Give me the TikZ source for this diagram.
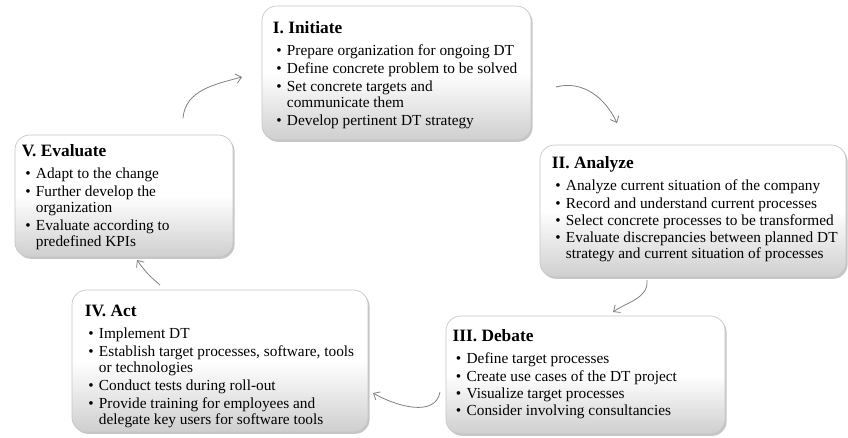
\documentclass[tikz,border=0pt]{standalone}
\usepackage{fontspec}
\setmainfont{Liberation Serif}
\usetikzlibrary{arrows.meta, positioning, shadows}
\tikzstyle{phase} = [draw=gray!45, line width=0.5pt, rounded corners=11pt, top color=white, bottom color=gray!38, middle color=white, drop shadow={shadow xshift=1.2pt, shadow yshift=-1.4pt, fill=black!50, opacity=0.45}]
\tikzstyle{phasetext} = [inner sep=0pt, anchor=north west]
\tikzstyle{flow} = [draw=black!50, line width=0.6pt, -{Straight Barb[length=4pt,width=7pt]}]
\newenvironment{phaselist}{\fontsize{11.5}{12}\selectfont\begin{tabular}{@{\hspace{2.5pt}}c@{\hspace{4pt}}l@{}}}{\end{tabular}}
\newcommand{\phasetitle}[1]{\multicolumn{2}{@{}l@{}}{\fontsize{13}{12}\selectfont\bfseries #1}\\[4.5pt]}
\newcommand{\itm}{\textbullet &}

\begin{document}
\begin{tikzpicture}[x=0.75pt, y=0.75pt]
  \useasboundingbox (0,0) rectangle (848,437);

  % the five phases of the cycle
  \node[phase, minimum width=201.75pt, minimum height=100.5pt] (init) at (396.5,364) {};
  \node[phase, minimum width=229.5pt, minimum height=99pt] (analyze) at (693,226) {};
  \node[phase, minimum width=209.25pt, minimum height=88.5pt] (debate) at (585.5,62) {};
  \node[phase, minimum width=222pt, minimum height=106.5pt] (act) at (220,76) {};
  \node[phase, minimum width=163.5pt, minimum height=91.5pt] (evaluate) at (124,241) {};

  \node[phasetext, below right=12pt and 8.25pt of init.north west] (initText) {\begin{phaselist}
    \phasetitle{I. Initiate}
    \itm Prepare organization for ongoing DT\\[1.5pt]
    \itm Define concrete problem to be solved\\[1.5pt]
    \itm Set concrete targets and\\
    & communicate them\\[1.5pt]
    \itm Develop pertinent DT strategy
  \end{phaselist}};

  \node[phasetext, below right=9pt and 9pt of analyze.north west] (analyzeText) {\begin{phaselist}
    \phasetitle{II. Analyze}
    \itm Analyze current situation of the company\\[1pt]
    \itm Record and understand current processes\\[1pt]
    \itm Select concrete processes to be transformed\\[1pt]
    \itm Evaluate discrepancies between planned DT\\
    & strategy and current situation of processes
  \end{phaselist}};

  \node[phasetext, below right=10.5pt and 5pt of debate.north west] (debateText) {\begin{phaselist}
    \phasetitle{III. Debate}
    \itm Define target processes\\[1pt]
    \itm Create use cases of the DT project\\[1pt]
    \itm Visualize target processes\\[1pt]
    \itm Consider involving consultancies
  \end{phaselist}};

  \node[phasetext, below right=11.25pt and 9.75pt of act.north west] (actText) {\begin{phaselist}
    \phasetitle{IV. Act}
    \itm Implement DT\\[1.5pt]
    \itm Establish target processes, software, tools\\
    & or technologies\\[1.5pt]
    \itm Conduct tests during roll-out\\[1.5pt]
    \itm Provide training for employees and\\
    & delegate key users for software tools
  \end{phaselist}};

  \node[phasetext, below right=7.5pt and 5.25pt of evaluate.north west] (evaluateText) {\begin{phaselist}
    \phasetitle{V. Evaluate}
    \itm Adapt to the change\\[1.5pt]
    \itm Further develop the\\
    & organization\\[1.5pt]
    \itm Evaluate according to\\
    & predefined KPIs
  \end{phaselist}};

  % arrow ends between the boxes
  \coordinate (evalOut) at (183,319);
  \coordinate (initIn) at (242,360);
  \coordinate (initOut) at (556,350);
  \coordinate (analyzeIn) at (617,314);
  \coordinate (analyzeOut) at (647,157);
  \coordinate (debateIn) at (613,125);
  \coordinate (debateOut) at (440,45);
  \coordinate (actIn) at (373,44);
  \coordinate (actOut) at (160,152);
  \coordinate (evalIn) at (137,177);

  \draw[flow] (evalOut) to[out=85,in=-165] (initIn);
  \draw[flow] (initOut) to[out=15,in=115] (analyzeIn);
  \draw[flow] (analyzeOut) to[out=-85,in=35] (debateIn);
  \draw[flow] (debateOut) to[out=-100,in=-30] (actIn);
  \draw[flow] (actOut) to[out=140,in=-55] (evalIn);
\end{tikzpicture}
\end{document}
